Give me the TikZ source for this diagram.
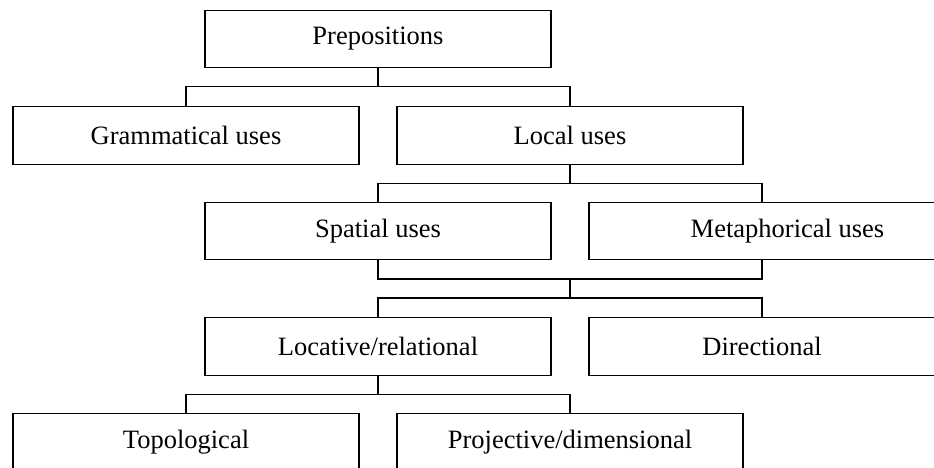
\documentclass[tikz,border=0pt]{standalone}
\usepackage{fontspec}
\setmainfont{Liberation Serif}
\usepackage{tikz}
\usetikzlibrary{positioning}

\begin{document}
\begin{tikzpicture}[
		x=1pt, y=1pt,
		usebox/.style={rectangle, draw=black, line width=1.2pt, minimum width=346pt, minimum height=57.5pt, inner sep=0pt, outer sep=0pt, font=\fontsize{26.5}{31}\selectfont},
		link/.style={draw=black, line width=1.2pt},
	]
		\useasboundingbox (0,0) rectangle (934,467);
		\clip (0,0) rectangle (934,467);

		% nodes
		\node[usebox] (prep)		at (378,428)	{Prepositions};
		\node[usebox] (gram)		at (186,331.5)	{Grammatical uses};
		\node[usebox] (local)		at (570,331.5)	{Local uses};
		\node[usebox] (spatial)		at (378,236)	{Spatial uses};
		\node[usebox, minimum width=397pt, anchor=west] (meta) at (589,236) {Metaphorical uses};
		\node[usebox] (loc)			at (378,120.5)	{Locative/relational};
		\node[usebox] (dirn)		at (762,120.5)	{Directional};
		\node[usebox] (topo)		at (186,24.5)	{Topological};
		\node[usebox] (proj)		at (570,24.5)	{Projective/dimensional};
		\coordinate (merge) at (570,188);

		% lines
		\draw[link] (prep.south) -- ++(0,-19) -| (gram.north);
		\draw[link] (prep.south) -- ++(0,-19) -| (local.north);
		\draw[link] (local.south) -- ++(0,-19) -| (spatial.north);
		\draw[link] (local.south) -- ++(0,-19) -| (dirn.north |- meta.north);
		\draw[link] (spatial.south) |- (merge) -| (dirn.north |- meta.south);
		\draw[link] (merge) -- ++(0,-19) -| (loc.north);
		\draw[link] (merge) -- ++(0,-19) -| (dirn.north);
		\draw[link] (loc.south) -- ++(0,-19) -| (topo.north);
		\draw[link] (loc.south) -- ++(0,-19) -| (proj.north);
	\end{tikzpicture}
\end{document}
